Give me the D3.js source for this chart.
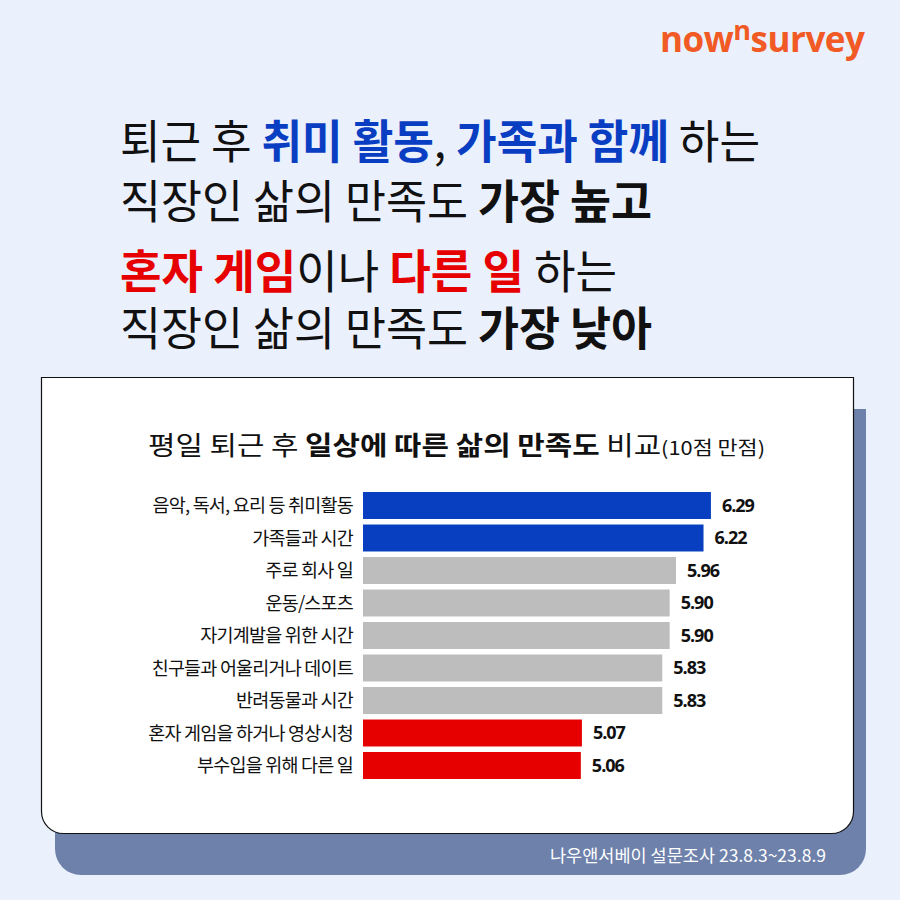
<!DOCTYPE html>
<html><head><meta charset="utf-8">
<script src="https://cdn.jsdelivr.net/npm/d3@7"></script>
<style>
html,body{margin:0;padding:0;background:#EBF0FD;}
svg{display:block;font-family:"Noto Sans CJK KR","Noto Sans",sans-serif;}
</style></head>
<body><svg id="chart" width="900" height="900"></svg>
<script>
const categories = ["음악, 독서, 요리 등 취미활동","가족들과 시간","주로 회사 일","운동/스포츠","자기계발을 위한 시간","친구들과 어울리거나 데이트","반려동물과 시간","혼자 게임을 하거나 영상시청","부수입을 위해 다른 일"];
const values = [6.29, 6.22, 5.96, 5.90, 5.90, 5.83, 5.83, 5.07, 5.06];
const groups = ["high","high","mid","mid","mid","mid","mid","low","low"];
const groupNames = ["high","mid","low"];
const groupColors = ["#073FC0","#BDBDBD","#E60000"];

const svg = d3.select("#chart");
const W = 900, H = 900;
svg.append("rect").attr("width",W).attr("height",H).attr("fill","#EBF0FD");

// logo
const logo = svg.append("text").attr("x",660).attr("y",52).attr("fill","#F15A24")
  .attr("font-family","'Open Sans',Lato,sans-serif").attr("font-weight",700).attr("font-size",35)
  .attr("textLength",205).attr("lengthAdjust","spacing");
logo.append("tspan").text("now");
logo.append("tspan").attr("font-size",27).attr("dy",-12).text("n");
logo.append("tspan").attr("dy",12).text("survey");

// headline
const hl = [
  {y:158, len:640, parts:[["퇴근 후 ","#111",400],["취미 활동","#0A3EC2",700],[",","#111",400],[" 가족과 함께","#0A3EC2",700],[" 하는","#111",400]]},
  {y:218, len:532, parts:[["직장인 삶의 만족도 ","#111",400],["가장 높고","#111",700]]},
  {y:288, len:497, parts:[["혼자 게임","#E60000",700],["이나 ","#111",400],["다른 일","#E60000",700],[" 하는","#111",400]]},
  {y:345, len:532, parts:[["직장인 삶의 만족도 ","#111",400],["가장 낮아","#111",700]]}
];
hl.forEach(l=>{
  const t = svg.append("text").attr("x",120).attr("y",l.y).attr("font-size",46)
    .attr("textLength",l.len).attr("lengthAdjust","spacingAndGlyphs");
  l.parts.forEach(p=>t.append("tspan").attr("fill",p[1]).attr("font-weight",p[2]).text(p[0]));
});

// cards
function roundBottom(x0,y0,x1,y1,r){
  return `M${x0},${y0}H${x1}V${y1-r}A${r},${r} 0 0 1 ${x1-r},${y1}H${x0+r}A${r},${r} 0 0 1 ${x0},${y1-r}Z`;
}
svg.append("path").attr("d",roundBottom(55,409,866,875,26)).attr("fill","#6E81AB");
svg.append("path").attr("d",roundBottom(41.5,377.5,853.5,833.5,22)).attr("fill","#fff").attr("stroke","#111").attr("stroke-width",1.2);

// chart title
const ct = svg.append("text").attr("x",148).attr("y",455).attr("font-size",26).attr("fill","#111")
  .attr("textLength",617).attr("lengthAdjust","spacingAndGlyphs");
ct.append("tspan").attr("font-weight",400).text("평일 퇴근 후 ");
ct.append("tspan").attr("font-weight",700).text("일상에 따른 삶의 만족도");
ct.append("tspan").attr("font-weight",400).text(" 비교");
ct.append("tspan").attr("font-weight",400).attr("font-size",19).text("(10점 만점)");

// scales
const x = d3.scaleLinear().domain([3, 7]).range([363, 786]);
const y = d3.scaleBand().domain(categories).range([489.25, 781.75]).paddingInner(0.17).paddingOuter(0.085);
const color = d3.scaleOrdinal().domain(groupNames).range(groupColors);

const g = svg.append("g");
g.selectAll("rect.bar").data(categories).join("rect").attr("class","bar")
  .attr("x",x(3)).attr("y",d=>y(d)).attr("height",y.bandwidth())
  .attr("width",(d,i)=>x(values[i])-x(3)).attr("fill",(d,i)=>color(groups[i]));

// category labels
g.selectAll("text.cat").data(categories).join("text").attr("class","cat")
  .attr("x",353).attr("y",d=>y(d)+y.bandwidth()/2).attr("dy","0.36em")
  .attr("text-anchor","end").attr("font-size",18.5).attr("fill","#111").attr("letter-spacing",-0.8)
  .text(d=>d);

// value labels
const fmt = d3.format(".2f");
g.selectAll("text.val").data(values).join("text").attr("class","val")
  .attr("x",v=>x(v)+11).attr("y",(v,i)=>y(categories[i])+y.bandwidth()/2).attr("dy","0.36em")
  .attr("font-family","'Open Sans',Lato,sans-serif").attr("font-weight",700).attr("font-size",18)
  .attr("letter-spacing",-1).attr("fill","#111").text(v=>fmt(v));

// footer
svg.append("text").attr("x",550).attr("y",862).attr("font-size",17).attr("fill","#fff")
  .attr("textLength",276).attr("lengthAdjust","spacingAndGlyphs")
  .text("나우앤서베이 설문조사 23.8.3~23.8.9");
</script></body></html>
